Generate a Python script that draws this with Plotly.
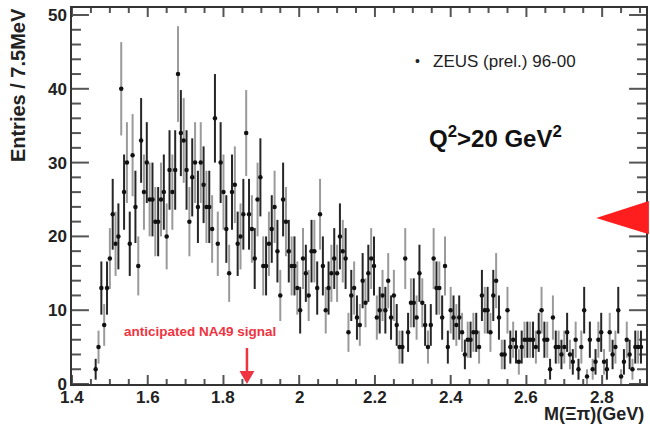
import numpy as np
import plotly.graph_objects as go

# ---------------- data ----------------
BIN_START = 1.4625      # GeV, centre of first bin
BIN_WIDTH = 0.0075      # GeV (7.5 MeV)

counts_a = [2, 5, 13, 8, 13, 17, 23, 19, 20, 40, 26, 30, 19, 31, 24, 16, 33, 26, 30, 25,
            25, 22, 22, 25, 26, 20, 29, 26, 29, 42, 34]
counts_b = [33, 29, 22, 28, 30, 24, 30, 27, 24, 24, 21, 36, 19, 30, 26, 21, 15, 26, 27, 19,
            20, 23, 34, 23, 21, 17, 25, 28, 16, 16, 19, 21, 24, 18]
counts_c = [12, 25, 22, 18, 16, 16, 13, 10, 17, 15, 12, 18, 18, 13, 23, 16, 10, 13, 15, 17,
            15, 20, 18, 17, 7, 12, 13, 9, 8, 14, 11, 15, 17]
counts_d = [16, 9, 10, 12, 10, 14, 9, 12, 8, 5, 5, 17, 7, 11, 11, 9, 15, 11, 8, 5,
            8, 17, 13, 13, 9, 16, 5, 10, 9, 8, 9, 7, 4]
counts_e = [6, 6, 7, 7, 5, 12, 10, 10, 7, 12, 14, 9, 4, 4, 10, 5, 6, 5, 3, 5,
            6, 6, 6, 6, 5, 7, 10, 6, 6, 2, 9, 5]
counts_f = [5, 4, 5, 7, 4, 3, 6, 2, 5, 10, 1, 6, 2, 3, 6, 7, 3, 2, 7, 4,
            5, 10, 1, 3, 6, 4, 2, 5, 5, 5]

counts = np.array(counts_a + counts_b + counts_c + counts_d + counts_e + counts_f, dtype=float)
mass = BIN_START + BIN_WIDTH * np.arange(len(counts))
errors = np.sqrt(counts)

x_ticks = [1.4, 1.6, 1.8, 2.0, 2.2, 2.4, 2.6, 2.8]
x_tick_labels = ["1.4", "1.6", "1.8", "2", "2.2", "2.4", "2.6", "2.8"]
y_ticks = [0, 10, 20, 30, 40, 50]
X_MINOR_STEP = 0.05
Y_MINOR_STEP = 2
NA49_MASS = 1.862

# ---------------- geometry ----------------
W, H = 650, 424
ML, MR, MT, MB = 72, 2, 8, 40
PW, PH = W - ML - MR, H - MT - MB          # 576 x 376 plot area
PX_PER_X = 380.0                            # px per GeV
PX_PER_Y = 7.38                             # px per entry
X_RANGE = [1.4, 1.4 + PW / PX_PER_X]
Y_RANGE = [0, PH / PX_PER_Y]

# ---------------- figure ----------------
fig = go.Figure()

# ROOT-style inside tick marks on all four sides, drawn as one line trace
tick_col = "#555555"
tx, ty = [], []
x_all = [round(X_RANGE[0] + k * X_MINOR_STEP, 4)
         for k in range(int((X_RANGE[1] - X_RANGE[0]) / X_MINOR_STEP) + 1)]
for v in x_all:
    L = (9 if any(abs(v - t) < 1e-6 for t in x_ticks) else 5) / PX_PER_Y
    tx += [v, v, None, v, v, None]
    ty += [Y_RANGE[0], Y_RANGE[0] + L, None, Y_RANGE[1], Y_RANGE[1] - L, None]
for v in range(0, int(Y_RANGE[1]) + 1, Y_MINOR_STEP):
    L = (17 if v in y_ticks else 9) / PX_PER_X
    tx += [X_RANGE[0], X_RANGE[0] + L, None, X_RANGE[1], X_RANGE[1] - L, None]
    ty += [v, v, None, v, v, None]
fig.add_trace(go.Scatter(x=tx, y=ty, mode="lines", line=dict(color=tick_col, width=2),
                         showlegend=False, hoverinfo="skip", cliponaxis=False))

even = slice(0, None, 2)
odd = slice(1, None, 2)
for sl, ecol in [(odd, "#9a9a9a"), (even, "#262626")]:
    fig.add_trace(go.Scatter(
        x=mass[sl], y=counts[sl], mode="markers",
        marker=dict(color="#111111", size=4.5),
        error_y=dict(type="data", array=errors[sl], width=0, thickness=2, color=ecol),
        showlegend=False, hoverinfo="skip"))

axis_col = "#333333"
tickfont = dict(family="Liberation Sans, Arial, sans-serif", size=17, color="#222222", weight="bold")

fig.update_xaxes(range=X_RANGE, showticklabels=False, ticks="",
                 showline=True, linecolor=axis_col, linewidth=1.5, mirror=True,
                 showgrid=False, zeroline=False)
fig.update_yaxes(range=Y_RANGE, tickvals=y_ticks, ticks="",
                 showline=True, linecolor=axis_col, linewidth=1.5, mirror=True,
                 showgrid=False, zeroline=False, tickfont=tickfont)

red = "#ef3340"
annotations = [
    dict(text="<b>Entries / 7.5MeV</b>", textangle=-90, xref="paper", yref="paper",
         x=-0.094, y=0.795, xanchor="center", yanchor="middle", showarrow=False,
         font=dict(family="Liberation Sans, Arial", size=20, color="#222222")),
    dict(text="<b>M(\u039e\u03c0)(GeV)</b>", xref="paper", yref="paper", x=1.0, y=-0.08,
         xanchor="right", yanchor="middle", showarrow=False,
         font=dict(family="Liberation Sans, Arial", size=18, color="#222222")),
    dict(text="\u2022", xref="paper", yref="paper", x=0.6024, y=0.859, xanchor="center", yanchor="middle",
         showarrow=False, font=dict(family="Liberation Sans, Arial", size=14, color="#222222")),
    dict(text="ZEUS (prel.) 96-00", xref="paper", yref="paper", x=0.625, y=0.859,
         xanchor="left", yanchor="middle", showarrow=False,
         font=dict(family="Liberation Sans, Arial", size=17, color="#222222")),
    dict(text="<b>Q<sup>2</sup>>20 GeV<sup>2</sup></b>", xref="paper", yref="paper", x=0.737, y=0.658,
         xanchor="center", yanchor="middle", showarrow=False,
         font=dict(family="Liberation Sans, Arial", size=24, color="#111111")),
    dict(text="<b>anticipated NA49 signal</b>", xref="paper", yref="paper", x=0.0863, y=0.139,
         xanchor="left", yanchor="middle", showarrow=False,
         font=dict(family="Liberation Sans, Arial", size=13.5, color=red)),
]
for v, lab in zip(x_ticks, x_tick_labels):
    annotations.append(dict(text=lab, xref="x", yref="paper", x=v, y=0, yanchor="top",
                            xanchor="center", yshift=-2, showarrow=False, font=tickfont))

hw = 7.5 / PX_PER_X
shapes = [
    dict(type="line", xref="x", yref="y", x0=NA49_MASS, x1=NA49_MASS, y0=36 / PX_PER_Y, y1=1.6,
         line=dict(color=red, width=2.5)),
    dict(type="path", xref="x", yref="y",
         path=f"M {NA49_MASS - hw},{13 / PX_PER_Y} L {NA49_MASS + hw},{13 / PX_PER_Y} L {NA49_MASS},0 Z",
         fillcolor=red, line=dict(width=0)),
    dict(type="path", xref="paper", yref="paper",
         path="M 0.9132,0.4415 L 1.005,0.487 L 1.005,0.398 Z",
         fillcolor="#ff1e1e", line=dict(width=0)),
]

fig.update_layout(width=W, height=H, margin=dict(l=ML, r=MR, t=MT, b=MB),
                  paper_bgcolor="white", plot_bgcolor="white",
                  annotations=annotations, shapes=shapes)

fig.write_html("out.html")
